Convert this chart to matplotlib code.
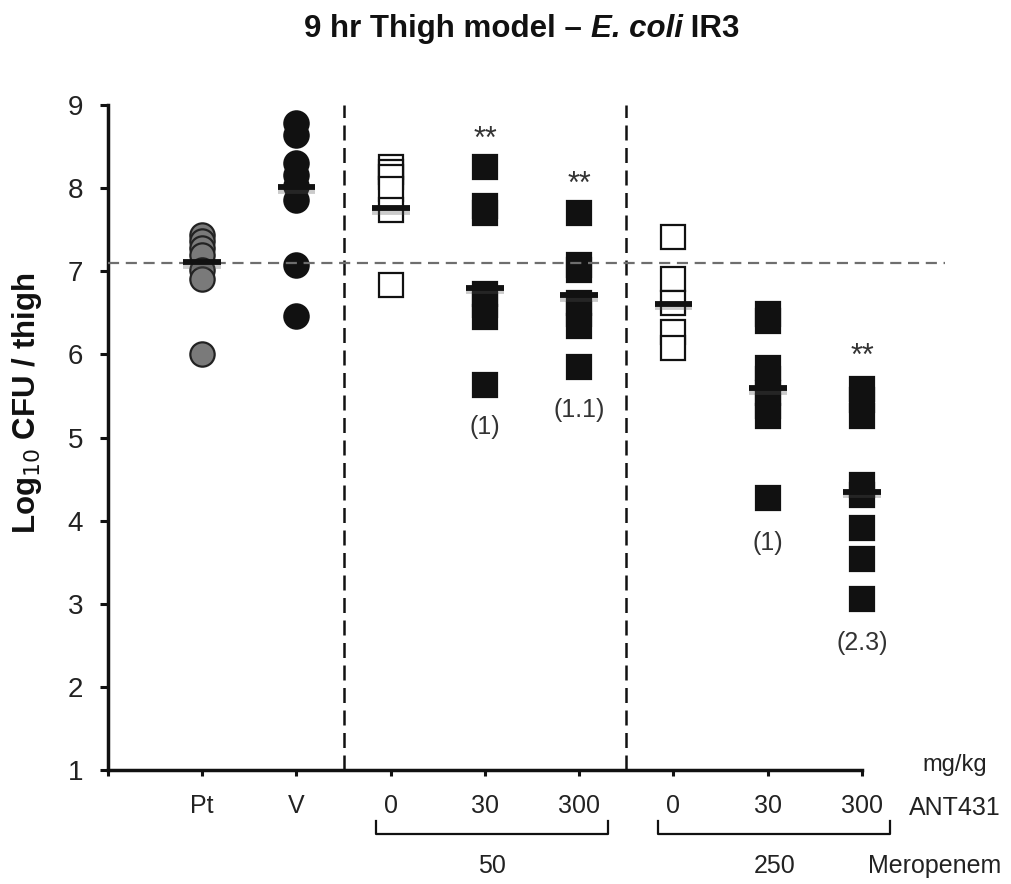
import matplotlib
matplotlib.use("Agg")
import matplotlib.pyplot as plt
import matplotlib.patheffects as pe
from matplotlib.transforms import blended_transform_factory

plt.rcParams['font.family'] = ['Liberation Sans', 'DejaVu Sans']

# ---- data ----
group_labels = ['Pt', 'V', '0', '30', '300', '0', '30', '300']
pt_vals = [7.44, 7.36, 7.28, 7.20, 7.01, 6.91, 6.01]
v_vals = [8.78, 8.64, 8.30, 8.16, 8.02, 7.86, 7.07, 6.46]
m50_ant0 = [8.25, 8.20, 8.13, 7.99, 7.74, 6.83]
m50_ant30 = [8.25, 7.78, 7.70, 6.73, 6.59, 6.45, 5.63]
m50_ant300 = [7.70, 7.07, 7.02, 6.62, 6.48, 6.34, 5.85]
m250_ant0 = [7.41, 6.91, 6.62, 6.27, 6.08]
m250_ant30 = [6.49, 6.40, 5.84, 5.70, 5.53, 5.38, 5.26, 4.27]
m250_ant300 = [5.58, 5.45, 5.26, 4.43, 4.31, 3.91, 3.54, 3.06]
group_means = [7.11, 8.01, 7.76, 6.80, 6.71, 6.61, 5.59, 4.35]
threshold = 7.1
star_groups = [4, 5, 8]
star_y = [8.58, 8.04, 5.97]
reduction_groups = [4, 5, 7, 8]
reduction_labels = ['(1)', '(1.1)', '(1)', '(2.3)']
reduction_y = [5.13, 5.33, 3.73, 2.53]
meropenem_doses = ['50', '250']

W, H = 1012, 884
fig = plt.figure(figsize=(W / 100, H / 100), dpi=100)
ax = fig.add_axes([108 / W, 1 - 770 / H, (862 - 108) / W, (770 - 105) / H])

series = [
    (pt_vals, 'o', '#7a7a7a', '#222222'),
    (v_vals, 'o', '#111111', '#111111'),
    (m50_ant0, 's', 'white', '#111111'),
    (m50_ant30, 's', '#111111', '#111111'),
    (m50_ant300, 's', '#111111', '#111111'),
    (m250_ant0, 's', 'white', '#111111'),
    (m250_ant30, 's', '#111111', '#111111'),
    (m250_ant300, 's', '#111111', '#111111'),
]

# threshold line (extends beyond axes)
ax.plot([0, 8.88], [threshold, threshold], ls=(0, (5, 3)), color='#6e6e6e', lw=1.6,
        clip_on=False, zorder=4)

for i, (vals, mk, fc, ec) in enumerate(series):
    xpos = i + 1
    ax.plot([xpos] * len(vals), vals, ls='none', marker=mk, ms=17.5, mfc=fc, mec=ec,
            mew=1.6, clip_on=False, zorder=3)

for i, m in enumerate(group_means):
    xpos = i + 1
    ax.plot([xpos - 0.2, xpos + 0.2], [m, m], color='#111111', lw=4.2, solid_capstyle='butt',
            zorder=5, clip_on=False,
            path_effects=[pe.SimpleLineShadow(offset=(0, -2.5), alpha=0.3, shadow_color='#555555'),
                          pe.Normal()])

for xv in [2.5, 5.5]:
    ax.plot([xv, xv], [1, 9], ls=(0, (6, 3)), color='#111111', lw=1.8, zorder=2)

for g, y in zip(star_groups, star_y):
    ax.text(g, y, '**', ha='center', va='center', fontsize=22, color='#333333')
for g, lab, y in zip(reduction_groups, reduction_labels, reduction_y):
    ax.text(g, y, lab, ha='center', va='center', fontsize=18, color='#333333')

ax.set_xlim(0, 8)
ax.set_ylim(1, 9)
ax.set_yticks(range(1, 10))
ax.set_xticks(range(0, 9))
ax.set_xticklabels([])
for s in ['top', 'right']:
    ax.spines[s].set_visible(False)
for s in ['left', 'bottom']:
    ax.spines[s].set_linewidth(2.5)
    ax.spines[s].set_color('#111111')
ax.tick_params(axis='y', direction='out', length=6, width=2.2, labelsize=20, pad=12,
               colors='#111111', labelcolor='#222222')
ax.tick_params(axis='x', direction='out', length=4, width=2.2, colors='#111111')

bt = blended_transform_factory(ax.transData, fig.transFigure)

# category labels
for i, lab in enumerate(group_labels):
    fig.text(i + 1, 1 - 813 / H, lab, transform=bt, ha='center', va='baseline',
             fontsize=18, color='#222222')

# y label
fig.text(27 / W, 1 - 403 / H, 'Log$_{10}$ CFU / thigh', rotation=90, ha='center', va='center',
         fontsize=22.5, fontweight='bold', color='#111111')

# side labels
fig.text(955 / W, 1 - 771 / H, 'mg/kg', ha='center', va='baseline', fontsize=17, color='#222222')
fig.text(955 / W, 1 - 815 / H, 'ANT431', ha='center', va='baseline', fontsize=18, color='#222222')
fig.text(935 / W, 1 - 873 / H, 'Meropenem', ha='center', va='baseline', fontsize=18, color='#222222')

# brackets
for (x0, x1), lab in zip([(2.84, 5.3), (5.84, 8.3)], meropenem_doses):
    y_top = 1 - 821 / H
    y_bot = 1 - 834 / H
    fig.add_artist(plt.Line2D([x0, x0, x1, x1], [y_top, y_bot, y_bot, y_top], transform=bt,
                              color='#111111', lw=1.6))
    fig.text((x0 + x1) / 2, 1 - 873 / H, lab, transform=bt, ha='center', va='baseline',
             fontsize=18, color='#222222')

# title with italic part
fig.canvas.draw()
r = fig.canvas.get_renderer()
parts = [('9 hr Thigh model \u2013 ', 'normal'), ('E. coli', 'italic'), (' IR3', 'normal')]
texts = []
for s, st in parts:
    t = fig.text(0, 1 - 37 / H, s, fontsize=22.5, fontweight='bold', style=st,
                 ha='left', va='baseline', color='#111111')
    texts.append(t)
widths = [t.get_window_extent(r).width for t in texts]
total = sum(widths)
x = 522 - total / 2
for t, w in zip(texts, widths):
    t.set_x(x / W)
    x += w

fig.savefig('out.png', dpi=100)
